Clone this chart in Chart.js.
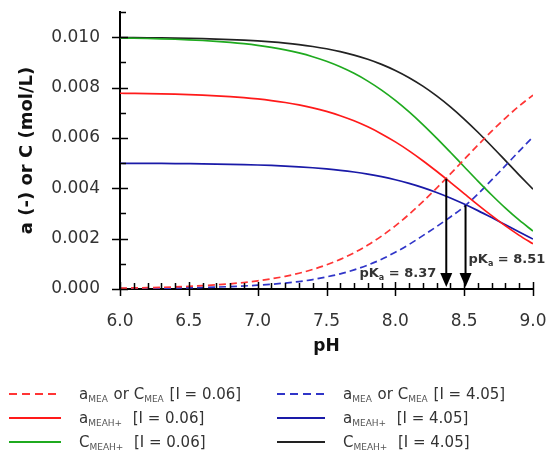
<!DOCTYPE html>
<html>
<head>
<meta charset="utf-8">
<script src="https://cdn.jsdelivr.net/npm/chart.js@4.4.1/dist/chart.umd.min.js"></script>
<style>
  html, body { margin: 0; padding: 0; background: #fff; }
</style>
</head>
<body>
<canvas id="mychart" width="550" height="455"></canvas>
<script>
// pH grid of the curves
const pH = [6.0, 6.1, 6.2, 6.3, 6.4, 6.5, 6.6, 6.7, 6.8, 6.9, 7.0, 7.1, 7.2, 7.3, 7.4, 7.5,
  7.6, 7.7, 7.8, 7.9, 8.0, 8.1, 8.2, 8.3, 8.4, 8.5, 8.6, 8.7, 8.8, 8.9, 9.0];

// I = 0.06
const mea006 = [0.000033, 0.000042, 0.000053, 0.000066, 0.000083, 0.000105, 0.000132, 0.000165,
  0.000207, 0.000259, 0.000324, 0.000405, 0.000504, 0.000626, 0.000776, 0.000958, 0.001177,
  0.001437, 0.001745, 0.002102, 0.002509, 0.002966, 0.003468, 0.004006, 0.004569, 0.005144,
  0.005715, 0.006267, 0.006789, 0.007268, 0.007701];
const aMeah006 = [0.007774, 0.007767, 0.007759, 0.007749, 0.007735, 0.007718, 0.007697, 0.007671,
  0.007639, 0.007598, 0.007547, 0.007484, 0.007407, 0.007312, 0.007195, 0.007053, 0.006882,
  0.006679, 0.006439, 0.006160, 0.005843, 0.005487, 0.005095, 0.004675, 0.004236, 0.003788,
  0.003342, 0.002912, 0.002505, 0.002131, 0.001793];
const cMeah006 = [0.009967, 0.009958, 0.009947, 0.009934, 0.009917, 0.009895, 0.009868, 0.009835,
  0.009793, 0.009741, 0.009676, 0.009595, 0.009496, 0.009374, 0.009224, 0.009042, 0.008823,
  0.008563, 0.008255, 0.007898, 0.007491, 0.007034, 0.006532, 0.005994, 0.005431, 0.004856,
  0.004285, 0.003733, 0.003211, 0.002732, 0.002299];

// I = 4.05
const mea405 = [0.000015, 0.000019, 0.000024, 0.000030, 0.000038, 0.000048, 0.000060, 0.000076,
  0.000095, 0.000120, 0.000150, 0.000188, 0.000236, 0.000295, 0.000375, 0.000480, 0.000600,
  0.000760, 0.000950, 0.001180, 0.001460, 0.001770, 0.002120, 0.002480, 0.002860, 0.003270,
  0.003776, 0.004331, 0.004902, 0.005476, 0.006038];
const aMeah405 = [0.004993, 0.004990, 0.004988, 0.004985, 0.004981, 0.004976, 0.004970, 0.004962,
  0.004952, 0.004940, 0.004925, 0.004906, 0.004882, 0.004852, 0.004816, 0.004770, 0.004714,
  0.004645, 0.004561, 0.004460, 0.004339, 0.004195, 0.004027, 0.003834, 0.003616, 0.003374,
  0.003112, 0.002835, 0.002549, 0.002262, 0.001981];
const cMeah405 = [0.009985, 0.009981, 0.009976, 0.009970, 0.009962, 0.009952, 0.009940, 0.009924,
  0.009905, 0.009880, 0.009850, 0.009812, 0.009764, 0.009705, 0.009631, 0.009540, 0.009428,
  0.009290, 0.009123, 0.008920, 0.008677, 0.008390, 0.008055, 0.007668, 0.007232, 0.006748,
  0.006224, 0.005669, 0.005098, 0.004524, 0.003962];

// pKa arrows: where they point and where they start (the a_MEA = a_MEAH+ crossing)
const pKa = [8.37, 8.51];
const pKaTop = [0.00438, 0.00333];
const pKaText = ['8.37', '8.51'];

// ticks
const xTicks = [6.0, 6.5, 7.0, 7.5, 8.0, 8.5, 9.0];
const yTicks = [0.000, 0.002, 0.004, 0.006, 0.008, 0.010];

// legend text, [text, isSubscript]
const legendText = [
  [['a', 0], ['MEA', 1], [' or C', 0], ['MEA', 1], [' [I = 0.06]', 0]],
  [['a', 0], ['MEAH+', 1], ['  [I = 0.06]', 0]],
  [['C', 0], ['MEAH+', 1], ['  [I = 0.06]', 0]],
  [['a', 0], ['MEA', 1], [' or C', 0], ['MEA', 1], [' [I = 4.05]', 0]],
  [['a', 0], ['MEAH+', 1], ['  [I = 4.05]', 0]],
  [['C', 0], ['MEAH+', 1], ['  [I = 4.05]', 0]],
];

const FONT = "'DejaVu Sans', sans-serif";

let pts = function (arr) {
  return arr.map((v, i) => ({ x: pH[i], y: v }));
};

let line = function (data, color, dashed) {
  return {
    data: pts(data),
    borderColor: color,
    borderWidth: 1.7,
    borderDash: dashed ? [7, 4] : [],
    pointRadius: 0,
    cubicInterpolationMode: 'monotone',
    fill: false,
  };
};

// little inside / crossing tick marks like the original
const tickMarks = {
  id: 'tickMarks',
  afterDraw(chart) {
    const { ctx, chartArea: a, scales: { x, y } } = chart;
    ctx.save();
    ctx.strokeStyle = '#000';
    ctx.lineWidth = 1.5;
    ctx.beginPath();
    for (let k = 0; k <= 11; k++) {
      const py = Math.round(y.getPixelForValue(k / 1000)) + 0.5;
      if (k % 2 === 0) {
        ctx.moveTo(a.left - 8, py);
        ctx.lineTo(a.left + 8, py);
      } else {
        ctx.moveTo(a.left, py);
        ctx.lineTo(a.left + 6, py);
      }
    }
    for (let k = 0; k <= 30; k++) {
      const px = Math.round(x.getPixelForValue(6 + k / 10)) + 0.5;
      if (k % 5 === 0) {
        ctx.moveTo(px, a.bottom - 7);
        ctx.lineTo(px, a.bottom + 7);
      } else {
        ctx.moveTo(px, a.bottom - 6);
        ctx.lineTo(px, a.bottom);
      }
    }
    ctx.stroke();
    ctx.restore();
  },
};

// pKa arrows with their labels
const pkArrows = {
  id: 'pkArrows',
  afterDatasetsDraw(chart) {
    const { ctx, chartArea: a, scales: { x, y } } = chart;
    ctx.save();
    pKa.forEach((v, i) => {
      const px = x.getPixelForValue(v);
      const top = y.getPixelForValue(pKaTop[i]);
      ctx.strokeStyle = '#000';
      ctx.fillStyle = '#000';
      ctx.lineWidth = 2;
      ctx.beginPath();
      ctx.moveTo(px, top);
      ctx.lineTo(px, a.bottom - 14);
      ctx.stroke();
      ctx.beginPath();
      ctx.moveTo(px - 6, a.bottom - 16);
      ctx.lineTo(px + 6, a.bottom - 16);
      ctx.lineTo(px, a.bottom - 2);
      ctx.closePath();
      ctx.fill();

      // label
      const parts = [['pK', 0], ['a', 1], [' = ' + pKaText[i], 0]];
      ctx.fillStyle = '#333';
      ctx.textBaseline = 'middle';
      let w = 0;
      parts.forEach(p => {
        ctx.font = 'bold ' + (p[1] ? 8 : 13) + 'px ' + FONT;
        w += ctx.measureText(p[0]).width;
      });
      let tx = i === 0 ? px - 10 - w : px + 3;
      const ty = i === 0 ? 274 : 260;
      parts.forEach(p => {
        ctx.font = 'bold ' + (p[1] ? 8 : 13) + 'px ' + FONT;
        ctx.fillText(p[0], tx, ty + (p[1] ? 4 : 0));
        tx += ctx.measureText(p[0]).width;
      });
    });
    ctx.restore();
  },
};

// legend under the chart, two columns with subscripts
const subLegend = {
  id: 'subLegend',
  afterDraw(chart) {
    const ctx = chart.ctx;
    const lineX = [[9, 61], [277, 325]];
    const textX = [79, 343];
    const rowY = [394, 418, 442];
    ctx.save();
    chart.data.datasets.forEach((ds, i) => {
      const col = i < 3 ? 0 : 1;
      const yy = rowY[i % 3];
      ctx.strokeStyle = ds.borderColor;
      ctx.lineWidth = 2;
      ctx.setLineDash(ds.borderDash.length ? [8, 5] : []);
      ctx.beginPath();
      ctx.moveTo(lineX[col][0], yy);
      ctx.lineTo(lineX[col][1], yy);
      ctx.stroke();
      ctx.setLineDash([]);

      let tx = textX[col];
      ctx.textBaseline = 'alphabetic';
      legendText[i].forEach(p => {
        ctx.font = (p[1] ? 9 : 15) + 'px ' + FONT;
        ctx.fillStyle = p[1] ? '#555' : '#333';
        ctx.fillText(p[0], tx, yy + (p[1] ? 8 : 5));
        tx += ctx.measureText(p[0]).width + (p[1] ? 1 : 0);
      });
    });
    ctx.restore();
  },
};

new Chart(document.getElementById('mychart'), {
  type: 'line',
  data: {
    datasets: [
      line(mea006, '#ff3535', true),
      line(aMeah006, '#ff1a1a', false),
      line(cMeah006, '#1faa1f', false),
      line(mea405, '#3035c8', true),
      line(aMeah405, '#1a1aa8', false),
      line(cMeah405, '#222222', false),
    ],
  },
  options: {
    responsive: false,
    animation: false,
    layout: { padding: { left: 17, top: 12, right: 17, bottom: 98 } },
    plugins: { legend: { display: false }, tooltip: { enabled: false } },
    scales: {
      x: {
        type: 'linear',
        min: 6,
        max: 9,
        afterBuildTicks: (s) => { s.ticks = xTicks.map(v => ({ value: v })); },
        afterFit: (s) => { s.height = 68; s.paddingLeft = 0; s.paddingRight = 0; },
        grid: { display: false, drawTicks: false },
        border: { display: true, color: '#000', width: 2 },
        ticks: {
          callback: (v) => Number(v).toFixed(1),
          font: { family: FONT, size: 17 },
          color: '#333',
          padding: 22,
          maxRotation: 0,
          autoSkip: false,
        },
        title: {
          display: true,
          text: 'pH',
          font: { family: FONT, size: 17, weight: 'bold' },
          color: '#111',
          padding: 0,
        },
      },
      y: {
        type: 'linear',
        min: 0,
        max: 0.011,
        afterBuildTicks: (s) => { s.ticks = yTicks.map(v => ({ value: v })); },
        afterFit: (s) => { s.width = 103; s.paddingTop = 0; s.paddingBottom = 0; },
        grid: { display: false, drawTicks: false },
        border: { display: true, color: '#000', width: 2 },
        ticks: {
          callback: (v) => Number(v).toFixed(3),
          font: { family: FONT, size: 17 },
          color: '#333',
          padding: 20,
        },
        title: {
          display: true,
          text: 'a (-) or C (mol/L)',
          font: { family: FONT, size: 18, weight: 'bold' },
          color: '#111',
          padding: 0,
        },
      },
    },
  },
  plugins: [tickMarks, pkArrows, subLegend],
});
</script>
</body>
</html>
